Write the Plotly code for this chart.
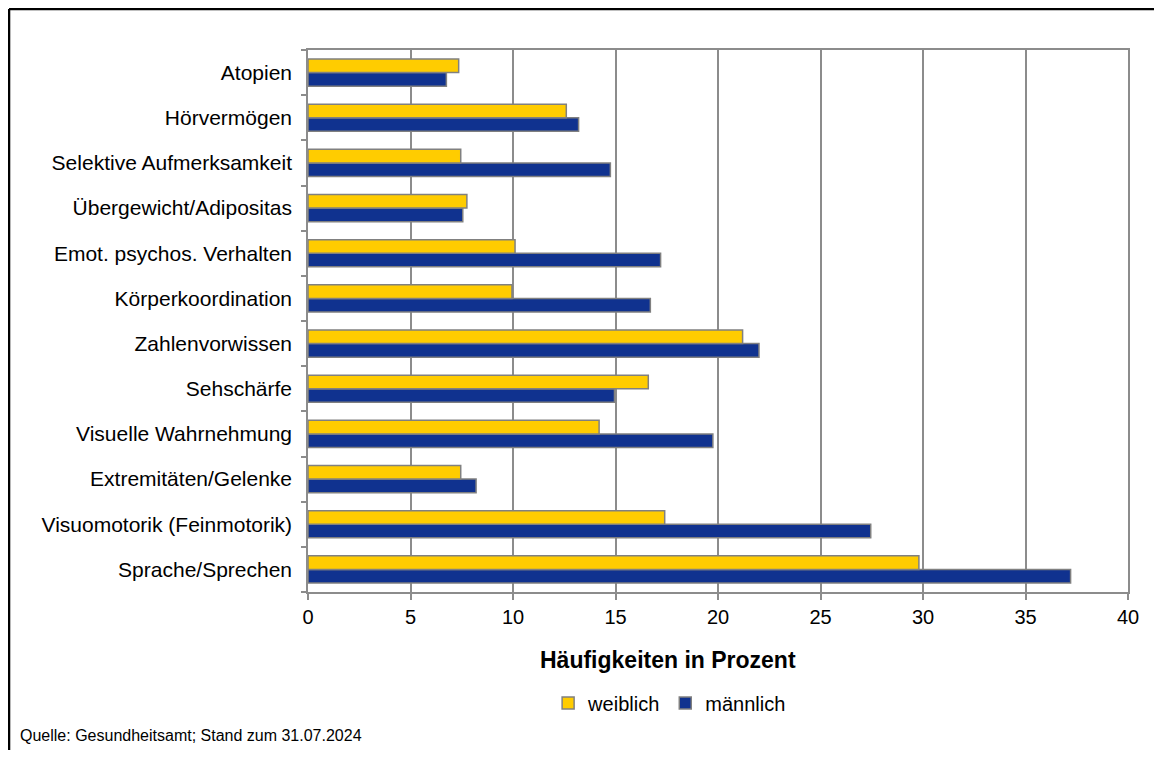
import plotly.graph_objects as go

# categories from bottom to top
categories = [
    "Sprache/Sprechen",
    "Visuomotorik (Feinmotorik)",
    "Extremitäten/Gelenke",
    "Visuelle Wahrnehmung",
    "Sehschärfe",
    "Zahlenvorwissen",
    "Körperkoordination",
    "Emot. psychos. Verhalten",
    "Übergewicht/Adipositas",
    "Selektive Aufmerksamkeit",
    "Hörvermögen",
    "Atopien",
]
weiblich = [29.8, 17.4, 7.45, 14.2, 16.6, 21.2, 9.95, 10.1, 7.75, 7.45, 12.6, 7.35]
maennlich = [37.2, 27.45, 8.2, 19.75, 14.95, 22.0, 16.7, 17.2, 7.55, 14.75, 13.2, 6.75]

x_ticks = [0, 5, 10, 15, 20, 25, 30, 35, 40]

FONT = "Liberation Sans, Arial, sans-serif"
GRID = "#8c8c8c"

fig = go.Figure()
# first trace sits lowest inside each group -> männlich first
fig.add_trace(go.Bar(
    y=categories, x=maennlich, name="männlich", orientation="h",
    marker=dict(color="#10328f", line=dict(color="#808080", width=1.5)),
))
fig.add_trace(go.Bar(
    y=categories, x=weiblich, name="weiblich", orientation="h",
    marker=dict(color="#ffcc00", line=dict(color="#808080", width=1.5)),
))

# page body adds an 8px margin, so the figure is smaller and shifted
fig.update_layout(
    width=1146, height=742,
    margin=dict(l=300, r=26, t=42, b=158),
    paper_bgcolor="white", plot_bgcolor="white",
    font=dict(family=FONT, color="black", size=21),
    barmode="group", bargap=0.4, bargroupgap=0,
    showlegend=True,
    legend=dict(
        orientation="h", traceorder="reversed",
        x=0.441, xanchor="center", y=-0.205, yanchor="middle",
        font=dict(size=20), itemwidth=30,
    ),
    xaxis=dict(
        range=[0, 40], tickvals=x_ticks, showgrid=True, gridcolor=GRID, gridwidth=1.5,
        showline=True, linecolor=GRID, linewidth=1.5, mirror=True,
        ticks="outside", ticklen=6, tickcolor=GRID, tickwidth=1.5,
        tickfont=dict(size=20), zeroline=False,
    ),
    yaxis=dict(
        showgrid=False, showline=True, linecolor=GRID, linewidth=1.5, mirror=True,
        ticks="outside", tickson="boundaries", ticklen=5, tickcolor=GRID, tickwidth=1.5,
        tickfont=dict(size=21), ticklabelstandoff=10,
    ),
)

fig.add_annotation(
    text="<b>Häufigkeiten in Prozent</b>", xref="paper", yref="paper",
    x=0.439, y=-0.126, xanchor="center", yanchor="middle",
    showarrow=False, font=dict(size=23),
)
fig.add_annotation(
    text="Quelle: Gesundheitsamt; Stand zum 31.07.2024", xref="paper", yref="paper",
    x=-0.354, y=-0.264, xanchor="left", yanchor="middle",
    showarrow=False, font=dict(size=16),
)

# outer frame (top and left edges visible)
fig.add_shape(type="line", xref="paper", yref="paper",
              x0=-0.3646, x1=1.04, y0=1.0756, y1=1.0756,
              line=dict(color="black", width=2.5))
fig.add_shape(type="line", xref="paper", yref="paper",
              x0=-0.3646, x1=-0.3646, y0=1.0756, y1=-0.31,
              line=dict(color="black", width=2.5))

fig.write_html("out.html")
